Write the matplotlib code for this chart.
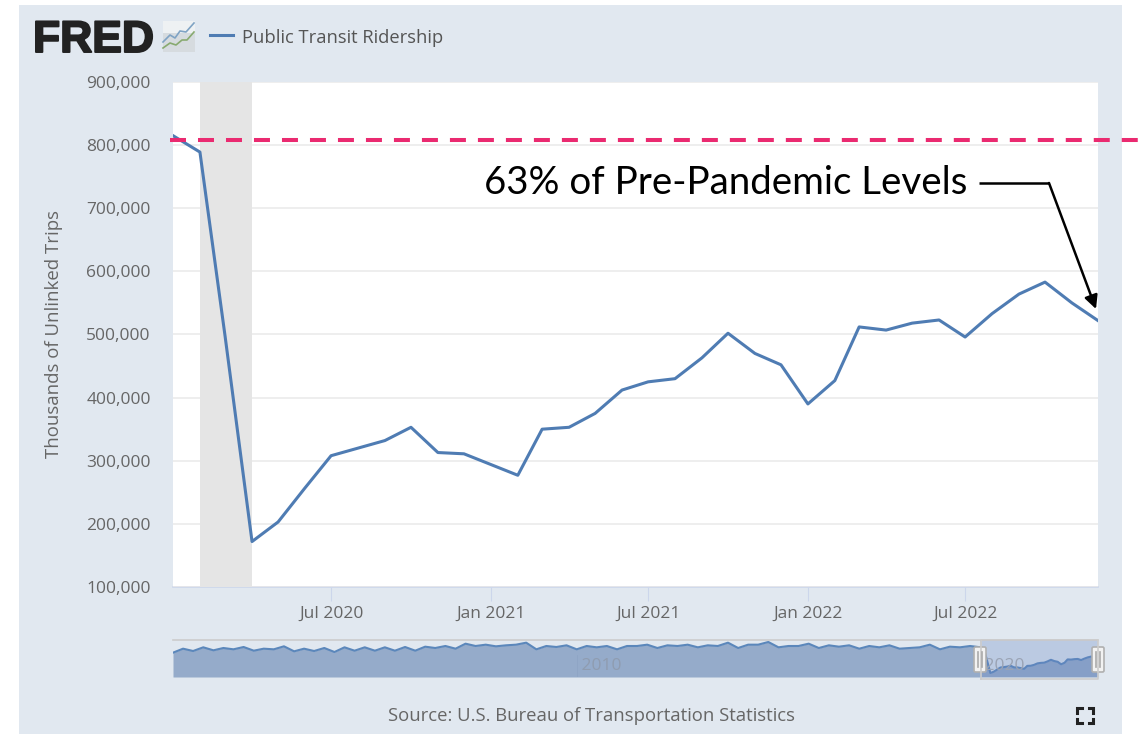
import pandas as pd
from matplotlib import pyplot as plt
from matplotlib.patches import Rectangle, FancyBboxPatch
from matplotlib.ticker import FuncFormatter
import matplotlib.patheffects as pe

PANEL = '#e1e8f0'
LINE = '#4f7cb3'
GRAY = '#666666'
LABEL_FONT = ['Open Sans', 'DejaVu Sans']

# monthly ridership shown in the main chart, Jan 2020 - Dec 2022
ridership = [815000, 789000, 497000, 172000, 203000, 257000, 308000, 320000, 332000,
             353000, 313000, 311000, 294000, 277000, 350000, 353000, 375000, 412000,
             425000, 430000, 463000, 502000, 470000, 452000, 390000, 427000, 512000,
             507000, 518000, 523000, 496000, 533000, 564000, 583000, 550000, 522000]
months = pd.date_range('2020-01-01', periods=len(ridership), freq='MS')

# navigator history, one reading per quarter, Jan 2000 - Oct 2019 (thousands)
history = [680, 780, 722, 814, 739, 797, 764, 822, 730, 780, 764, 839, 714, 780, 722, 797,
           697, 814, 730, 814, 730, 814, 730, 822, 730, 830, 797, 847, 780, 905, 847, 880,
           839, 864, 880, 930, 764, 847, 822, 864, 764, 847, 814, 847, 764, 847, 847, 880,
           797, 864, 847, 880, 814, 864, 847, 930, 797, 880, 880, 947, 814, 847, 847,
           905, 797, 864, 830, 864, 780, 847, 814, 864, 780, 797, 814, 880, 764, 830, 814, 847]
history_dates = pd.date_range('2000-01-01', periods=len(history), freq='QS')

y_ticks = [100000, 200000, 300000, 400000, 500000, 600000, 700000, 800000, 900000]
x_ticks = ['2020-07-01', '2021-01-01', '2021-07-01', '2022-01-01', '2022-07-01']
x_labels = ['Jul 2020', 'Jan 2021', 'Jul 2021', 'Jan 2022', 'Jul 2022']
pre_pandemic = 808000

W, H = 1142, 734


def box(x0, y0, x1, y1):
    return [x0 / W, 1 - y1 / H, (x1 - x0) / W, (y1 - y0) / H]


fig = plt.figure(figsize=(W / 100, H / 100), dpi=100, facecolor='white')
fig.patches.append(Rectangle((19 / W, 0), 1103 / W, 1 - 5 / H, transform=fig.transFigure,
                             facecolor=PANEL, edgecolor='none', zorder=-5))

# main chart
ax = fig.add_axes(box(173, 82, 1098, 587))
ax.axvspan(pd.Timestamp('2020-02-01'), pd.Timestamp('2020-04-01'), color='#e5e5e5', lw=0, zorder=2.8)
ax.plot(months, ridership, color=LINE, lw=2.2, zorder=3, solid_joinstyle='round')
ax.set_xlim(months[0], months[-1])
ax.set_ylim(100000, 900000)
ax.set_yticks(y_ticks)
ax.yaxis.set_major_formatter(FuncFormatter(lambda v, p: f'{int(v):,}'))
ax.set_xticks(pd.to_datetime(x_ticks))
ax.set_xticklabels(x_labels)
ax.grid(axis='y', color='#e9e9e9', lw=1.1)
ax.set_axisbelow(False)
for s in ['top', 'left', 'right']:
    ax.spines[s].set_visible(False)
ax.spines['bottom'].set_color('#ccd6eb')
ax.spines['bottom'].set_linewidth(1.2)
ax.tick_params(axis='y', length=0, pad=16, labelsize=12.5, labelcolor=GRAY)
ax.tick_params(axis='x', length=10, width=0.8, color='#ccd6eb', pad=3.5, labelsize=12.5, labelcolor=GRAY)
for t in ax.get_xticklabels() + ax.get_yticklabels():
    t.set_family(LABEL_FONT)
ax.axhline(pre_pandemic, xmin=-3 / 925, xmax=965 / 925, color='#ea2a70', lw=2.9, clip_on=False,
           zorder=6, dashes=(3.97, 2.98))

# navigator
nav = fig.add_axes(box(173, 640, 1098, 677))
nav.patch.set_alpha(0)
nav_x = list(history_dates) + list(months)
nav_y = [v * 1000 for v in history] + ridership
nav.fill_between(nav_x, nav_y, 72000, color='#95abca', lw=0, zorder=1)
nav.plot(nav_x, nav_y, color='#5b87bb', lw=1.5, zorder=2)
nav.set_xlim(pd.Timestamp('2000-01-01'), months[-1])
nav.set_ylim(72000, 997000)
nav.axvspan(months[0], months[-1], color='#6685c2', alpha=0.3, lw=0, zorder=3)
nav.axvline(pd.Timestamp('2010-01-01'), ymax=0.6, color='#8ea5c5', lw=0.6, zorder=2)
nav.text(pd.Timestamp('2010-01-01'), 340000, ' 2010', color='#8f9cb0', fontsize=12.5, va='center',
         family=LABEL_FONT, zorder=4)
nav.text(pd.Timestamp('2020-01-01'), 340000, ' 2020', color='#9aa3b4', fontsize=12.5, va='center',
         family=LABEL_FONT, zorder=4)
nav.set_xticks([])
nav.set_yticks([])
for s in ['left', 'right', 'bottom']:
    nav.spines[s].set_visible(False)
nav.spines['top'].set_color('#cccccc')
nav.spines['top'].set_linewidth(1.2)

# overlay in pixel coordinates for logo, legend, notes
top = fig.add_axes([0, 0, 1, 1], zorder=10)
top.set_xlim(0, W)
top.set_ylim(H, 0)
top.axis('off')

# selection frame and handles
top.plot([981, 981, 1098, 1098, 981], [679, 640, 640, 679, 679], color='#cccccc', lw=1.2)
for hx in [980, 1098]:
    top.add_patch(FancyBboxPatch((hx - 6, 647), 12, 25, boxstyle='round,pad=0,rounding_size=1.5',
                                 facecolor='#f2f2f2', edgecolor='#b0b0b0', lw=1.2))
    top.plot([hx - 2, hx - 2], [652, 667], color='#aaaaaa', lw=1.2)
    top.plot([hx + 2, hx + 2], [652, 667], color='#aaaaaa', lw=1.2)

# logo
logo = top.text(33, 52, 'FRED', family=['Liberation Sans'], weight='bold', fontsize=32,
                color='#222222', va='baseline')
logo.set_path_effects([pe.withStroke(linewidth=1.4, foreground='#222222')])
top.add_patch(Rectangle((163, 21), 32, 31, facecolor='#d6dbdf', edgecolor='none'))
top.add_patch(Rectangle((163, 21), 32, 12, facecolor='#eef1f3', edgecolor='none'))
top.plot([163, 170, 175, 180, 186, 194], [42, 35, 38, 31, 32, 23], color='#7fa3c4', lw=1.2)
top.plot([163, 170, 176, 182, 187, 194], [48, 43, 45, 40, 40, 32], color='#88aa70', lw=1.2)

# legend
top.plot([210, 233], [35, 35], color=LINE, lw=2.2)
top.text(242, 38, 'Public Transit Ridership', family=LABEL_FONT, fontsize=13.2, color='#555555',
         va='center')

top.text(54, 334, 'Thousands of Unlinked Trips', rotation=90, family=LABEL_FONT, fontsize=13.4,
         color=GRAY, va='center', ha='center')
top.text(591, 716, 'Source: U.S. Bureau of Transportation Statistics', family=LABEL_FONT, fontsize=13.3,
         color=GRAY, va='center', ha='center')

# callout
top.text(484, 183, '63% of Pre-Pandemic Levels', family=['Lato', 'DejaVu Sans'], fontsize=27.7, color='black',
         va='center', ha='left')
top.plot([979, 1049], [183, 183], color='black', lw=1.8, solid_capstyle='butt')
top.annotate('', xy=(1096, 309), xytext=(1049, 183),
             arrowprops=dict(arrowstyle='-|>', lw=1.8, color='black', mutation_scale=20, shrinkA=0, shrinkB=0))

# fullscreen icon
for cx, cy, dx, dy in [(1077, 708, 1, 1), (1093, 708, -1, 1), (1077, 723, 1, -1), (1093, 723, -1, -1)]:
    top.plot([cx + 4.5 * dx, cx, cx], [cy, cy, cy + 4.5 * dy], color='#222222', lw=2.2, solid_joinstyle='miter')

fig.savefig('out.png', dpi=100, facecolor='white')
